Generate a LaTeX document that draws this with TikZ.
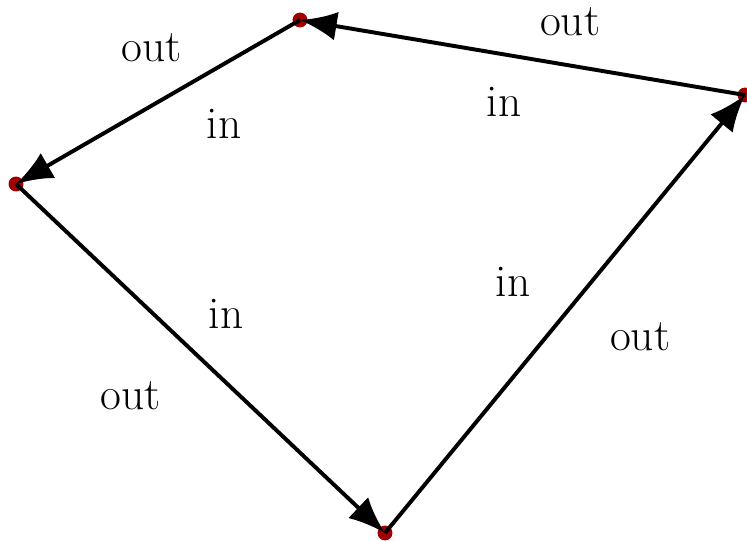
\documentclass[tikz,border=0pt]{standalone}
\usepackage{tikz}
\usetikzlibrary{arrows.meta,positioning,calc}
\definecolor{dotred}{HTML}{A00000}

\begin{document}
\begin{tikzpicture}[x=1cm,y=1cm,
  vtx/.style={circle, fill=dotred, inner sep=0pt, minimum size=0.2cm},
  arc/.style={line width=1.5pt, -{Latex[length=14pt,width=11pt]}},
  lab/.style={font=\LARGE}]
\useasboundingbox (0,0) rectangle (10,7.229);
% vertices
\node[vtx] (top)    at (4.016,6.961) {};
\node[vtx] (left)   at (0.214,4.766) {};
\node[vtx] (bottom) at (5.154,0.094) {};
\node[vtx] (right)  at (9.973,5.957) {};
% cycle of arcs
\draw[arc] (right.center) -- (top.center);
\draw[arc] (top.center) -- (left.center);
\draw[arc] (left.center) -- (bottom.center);
\draw[arc] (bottom.center) -- (right.center);
% in / out labels
\node[lab] (outTL) at (2.035,6.586) {out};
\node[lab] (inTL)  at (2.999,5.569) {in};
\node[lab] (outTR) at (7.631,6.934) {out};
\node[lab] (inTR)  at (6.747,5.863) {in};
\node[lab] (inBR)  at (6.867,3.454) {in};
\node[lab] (outBR) at (8.568,2.718) {out};
\node[lab] (inBL)  at (3.025,3.025) {in};
\node[lab] (outBL) at (1.754,1.928) {out};
\end{tikzpicture}
\end{document}
